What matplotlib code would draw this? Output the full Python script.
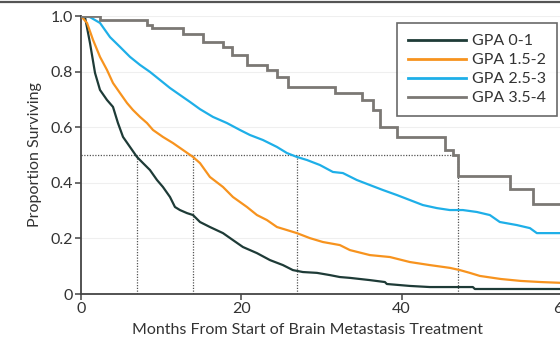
import matplotlib
matplotlib.use("Agg")
import matplotlib.pyplot as plt
from matplotlib.lines import Line2D

plt.rcParams['font.family'] = ['Lato', 'DejaVu Sans']
fsz = 11.5

# ---- data (months, proportion surviving) ----
gpa01_t = [0, 0.50, 1.12, 1.75, 2.37, 3.24, 3.99, 4.61, 5.24, 6.11, 6.98, 7.73, 8.60, 9.48, 10.22,
           11.10, 11.72, 12.34, 13.22, 13.97, 14.84, 16.08, 17.71, 18.95, 20.20, 21.95, 23.57, 25.19,
           26.43, 27.68, 29.43, 31.05, 32.29, 33.54, 36.03, 37.91, 38.15, 41.02, 43.52, 46.01, 48.88,
           49.13, 51.87, 60.0]
gpa01_s = [1.0, 0.996, 0.903, 0.795, 0.734, 0.698, 0.673, 0.615, 0.565, 0.529, 0.493, 0.471, 0.446,
           0.410, 0.385, 0.349, 0.313, 0.302, 0.291, 0.284, 0.259, 0.241, 0.219, 0.194, 0.169, 0.147,
           0.122, 0.104, 0.086, 0.079, 0.076, 0.068, 0.061, 0.058, 0.050, 0.043, 0.036, 0.029, 0.025,
           0.025, 0.025, 0.018, 0.018, 0.018]

gpa152_t = [0, 0.75, 1.50, 2.37, 3.24, 3.99, 4.86, 5.74, 6.48, 7.36, 8.23, 8.98, 10.22, 11.47, 12.72,
            13.97, 14.84, 16.08, 17.71, 18.95, 20.70, 21.95, 23.19, 24.44, 25.69, 26.93, 28.55, 30.17,
            32.29, 33.54, 36.03, 38.53, 41.02, 43.52, 46.01, 47.26, 48.50, 49.75, 52.36, 54.86, 57.36,
            60.0]
gpa152_s = [1.0, 0.975, 0.914, 0.853, 0.806, 0.759, 0.723, 0.687, 0.662, 0.637, 0.615, 0.590, 0.565,
            0.543, 0.518, 0.493, 0.471, 0.421, 0.385, 0.349, 0.313, 0.284, 0.266, 0.241, 0.230, 0.219,
            0.201, 0.187, 0.176, 0.158, 0.140, 0.133, 0.115, 0.104, 0.094, 0.086, 0.076, 0.065, 0.054,
            0.047, 0.043, 0.040]

gpa253_t = [0, 1.12, 2.37, 3.62, 4.86, 6.11, 7.36, 8.60, 9.85, 11.10, 12.34, 13.59, 14.84, 16.46,
            18.20, 19.83, 21.07, 22.69, 24.44, 25.69, 26.93, 28.18, 29.80, 31.42, 32.67, 34.41, 36.03,
            37.66, 39.40, 41.02, 42.64, 44.39, 46.01, 47.63, 49.38, 51.00, 52.24, 54.36, 56.00, 56.86,
            60.0]
gpa253_s = [1.0, 0.996, 0.975, 0.924, 0.889, 0.853, 0.824, 0.799, 0.770, 0.741, 0.716, 0.691, 0.665,
            0.637, 0.615, 0.590, 0.572, 0.554, 0.529, 0.507, 0.493, 0.482, 0.464, 0.439, 0.435, 0.410,
            0.392, 0.374, 0.356, 0.338, 0.320, 0.309, 0.302, 0.302, 0.295, 0.284, 0.259, 0.248, 0.237,
            0.219, 0.219]

gpa354_t = [0, 2.4, 8.2, 8.9, 12.7, 15.2, 17.7, 18.8, 20.7, 23.2, 24.4, 25.8, 31.7, 35.0, 36.4, 37.3,
            39.4, 45.4, 46.4, 47.0, 53.5, 56.4, 60.0]
gpa354_s = [1.0, 0.986, 0.968, 0.957, 0.935, 0.906, 0.888, 0.860, 0.824, 0.806, 0.781, 0.745, 0.723,
            0.698, 0.662, 0.601, 0.565, 0.518, 0.500, 0.424, 0.378, 0.324, 0.324]

medians = [7, 14, 27, 47]
labels = ["GPA 0-1", "GPA 1.5-2", "GPA 2.5-3", "GPA 3.5-4"]
colors = ["#1e3b37", "#f7931e", "#1eafe8", "#7b7874"]
x_ticks = [0, 20, 40, 60]
y_ticks = [0, 0.2, 0.4, 0.6, 0.8, 1.0]
y_ticklabels = ["0", "0.2", "0.4", "0.6", "0.8", "1.0"]

fig = plt.figure(figsize=(5.6, 3.41), dpi=100)
ax = fig.add_axes([81/560, 47/341, 481/560, 278/341])

# faint grid
for yv in y_ticks[1:]:
    ax.axhline(yv, color="#efefef", lw=0.8, zorder=0)

# median guide lines
ax.plot([0, medians[-1]], [0.5, 0.5], color="#555555", lw=0.9, ls=(0, (1, 1.2)), zorder=1)
for m in medians:
    ax.plot([m, m], [0, 0.5], color="#555555", lw=0.9, ls=(0, (1, 1.2)), zorder=1)

series = [(gpa01_t, gpa01_s), (gpa152_t, gpa152_s), (gpa253_t, gpa253_s), (gpa354_t, gpa354_s)]
for (t, s), c, lab in zip(series, colors, labels):
    if lab == "GPA 3.5-4":
        ax.plot(t, s, color=c, lw=2.0, drawstyle="steps-post", zorder=3, solid_joinstyle="miter")
    else:
        ax.plot(t, s, color=c, lw=1.6, zorder=3)

ax.set_xlim(0, 60)
ax.set_ylim(0, 1.0)
ax.set_xticks(x_ticks)
ax.set_xticklabels([str(v) for v in x_ticks])
ax.set_yticks(y_ticks)
ax.set_yticklabels(y_ticklabels)
for sp in ["top", "right"]:
    ax.spines[sp].set_visible(False)
for sp in ["left", "bottom"]:
    ax.spines[sp].set_color("#444444")
    ax.spines[sp].set_linewidth(1.3)
ax.tick_params(axis="both", direction="out", length=4, width=1.1, color="#444444",
               labelsize=fsz, labelcolor="#333333", pad=2)
ax.set_xlabel("Months From Start of Brain Metastasis Treatment", fontsize=fsz, color="#333333")
ax.xaxis.set_label_coords((308 - 81) / 481, -0.105)
ax.set_ylabel("Proportion Surviving", fontsize=fsz, color="#333333", labelpad=6)

handles = [Line2D([0], [0], color=c, lw=2.0) for c in colors]
leg = ax.legend(handles, labels, loc="upper left", bbox_to_anchor=(397/560, 1 - 23/341),
                bbox_transform=fig.transFigure, frameon=True, fancybox=False, borderaxespad=0,
                fontsize=fsz, handlelength=3.6, handletextpad=0.4, borderpad=0.7,
                labelspacing=0.3, labelcolor="#333333")
leg.get_frame().set_edgecolor("#444444")
leg.get_frame().set_linewidth(1.2)

# top border line of the page
fig.add_artist(Line2D([0, 1], [1 - 1.5/341, 1 - 1.5/341], transform=fig.transFigure,
                      color="#555555", lw=1.6))

fig.savefig("out.png", dpi=100)
